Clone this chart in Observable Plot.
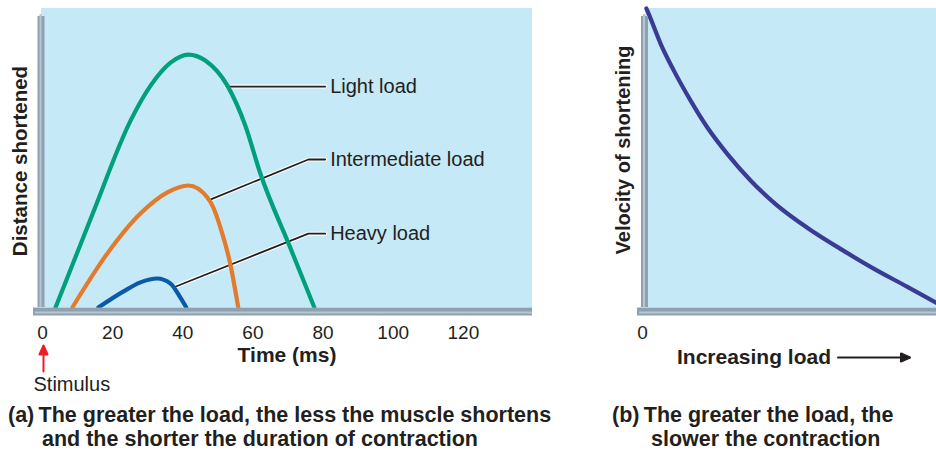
<!DOCTYPE html>
<html>
<head>
<meta charset="utf-8">
<script src="https://cdn.jsdelivr.net/npm/d3@7"></script>
<script src="https://cdn.jsdelivr.net/npm/@observablehq/plot@0.6"></script>
<style>
  html, body { margin: 0; padding: 0; background: #ffffff; }
  #wrap { position: relative; width: 936px; height: 456px; overflow: hidden; font-family: "Liberation Sans", Arial, sans-serif; color: #231f20; }
  #left, #right { position: absolute; top: 0; }
  #left { left: 0; }
  #right { left: 560px; }
  .cap { position: absolute; font-family: "Liberation Sans Narrow", "Liberation Sans", Arial, sans-serif; font-weight: bold; font-size: 21.5px; line-height: 24px; color: #231f20; white-space: nowrap; }
</style>
</head>
<body>
<div id="wrap">
  <div id="left"></div>
  <div id="right"></div>
  <div class="cap" id="capA" style="left:8px; top:403px;">(a)&#8201;The greater the load, the less the muscle shortens<br><span style="padding-left:34px">and the shorter the duration of contraction</span></div>
  <div class="cap" id="capB" style="left:612px; top:403px;">(b)&#8201;The greater the load, the<br><span style="padding-left:39px">slower the contraction</span></div>
</div>
<script>
// ---------- data ----------
const xTicks = [0, 20, 40, 60, 80, 100, 120];
const xTicksB = [0];

// Light load (time ms, distance shortened, arbitrary units 0-100)
const lightT = [4.0, 14.5, 25.4, 31.1, 36.8, 41.9, 46.7, 53.0, 58.1, 62.4, 70.9, 77.8];
const lightD = [0, 31.1, 62.5, 74.2, 81.9, 84.6, 82.6, 74.2, 60.9, 44.8, 20.1, 0];
// Intermediate load
const interT = [8.8, 18.8, 28.2, 35.9, 41.9, 47.3, 49.0, 51.0, 53.8, 56.1];
const interD = [0, 18.1, 31.4, 38.5, 40.8, 36.8, 33.4, 26.8, 14.7, 0];
// Heavy load
const heavyT = [16.2, 23.4, 28.2, 33.0, 36.8, 39.6, 41.3];
const heavyD = [0, 5.4, 8.4, 9.7, 8.0, 3.3, 0];

// Leader lines: [time, distance] vertices
const leaderLight = [[52.7, 73.9], [80.9, 73.9]];
const leaderInter = [[48.1, 36.1], [76.1, 49.5], [80.9, 49.5]];
const leaderHeavy = [[37.6, 6.7], [76.1, 24.7], [80.9, 24.7]];
const labelNames = ["Light load", "Intermediate load", "Heavy load"];
const labelT = [82.3, 82.3, 82.3];
const labelD = [73.9, 49.5, 24.7];

// Panel (b): load (0-100) vs velocity of shortening (0-100)
const loadX = [0.3, 1.1, 5.2, 9.7, 15.5, 21.2, 28.1, 36.1, 44.7, 55.7, 67.0, 78.4, 90.0, 100];
const velY = [100, 98.2, 88.2, 79.3, 69.2, 60.3, 51.4, 42.5, 34.6, 26.6, 19.6, 13.0, 6.9, 1.5];

// ---------- build tables ----------
const zip = (xs, ys) => xs.map((x, i) => ({x, y: ys[i]}));
const light = zip(lightT, lightD);
const inter = zip(interT, interD);
const heavy = zip(heavyT, heavyD);
const velocity = zip(loadX, velY);
const labels = labelNames.map((name, i) => ({name, x: labelT[i], y: labelD[i]}));
const toPts = (arr) => arr.map(([x, y]) => ({x, y}));

const BG = "#c6e9f8";
const FRAME = "#8ea1b0";
const FRAME_HI = "#b7c6d1";
const INK = "#231f20";

// arrow shape with filled triangular head
const filledArrow = {
  draw(context, l) {
    const head = 9, w = 4;
    context.moveTo(0, 0);
    context.lineTo(0, -l + head - 1);
    context.moveTo(-w, -l + head);
    context.lineTo(0, -l);
    context.lineTo(w, -l + head);
    context.closePath();
  }
};

function frameMarks(xMax) {
  return [
    Plot.rect([0], {x1: 0, x2: xMax, y1: 0, y2: 100, fill: BG}),
  ];
}
function frameBars(xMax, dxBar) {
  return [
    Plot.ruleY([0], {x1: 0, x2: xMax, stroke: FRAME, strokeWidth: 8, dy: 4, insetLeft: -8}),
    Plot.ruleY([0], {x1: 0, x2: xMax, stroke: FRAME_HI, strokeWidth: 2, dy: 5, insetLeft: -6}),
    Plot.ruleX([0], {y1: 0, y2: 100, stroke: FRAME, strokeWidth: 7, dx: dxBar, insetBottom: -8}),
    Plot.ruleX([0], {y1: 0, y2: 100, stroke: FRAME_HI, strokeWidth: 2, dx: dxBar - 0.5, insetBottom: -6})
  ];
}
const fontStyle = {fontFamily: "'Liberation Sans', Arial, sans-serif", color: INK, background: "transparent", overflow: "visible"};

// ---------- panel (a) ----------
const left = Plot.plot({
  width: 560,
  height: 400,
  marginLeft: 41,
  marginRight: 28,
  marginTop: 8,
  marginBottom: 93,
  style: fontStyle,
  x: {domain: [0, 140], axis: null},
  y: {domain: [0, 100], axis: null},
  marks: [
    ...frameMarks(140),
    // leader lines with white halo
    ...[leaderLight, leaderInter, leaderHeavy].flatMap(L => [
      Plot.line(toPts(L), {x: "x", y: "y", stroke: "white", strokeWidth: 4}),
      Plot.line(toPts(L), {x: "x", y: "y", stroke: INK, strokeWidth: 1.8})
    ]),
    Plot.line(light, {x: "x", y: "y", stroke: "#00a07c", strokeWidth: 4.2, curve: "monotone-x"}),
    Plot.line(inter, {x: "x", y: "y", stroke: "#e27b2b", strokeWidth: 4.2, curve: "monotone-x"}),
    Plot.line(heavy, {x: "x", y: "y", stroke: "#0b5aa8", strokeWidth: 4.2, curve: "monotone-x"}),
    Plot.text(labels, {x: "x", y: "y", text: "name", textAnchor: "start", lineAnchor: "middle", fontSize: 20, fill: INK}),
    ...frameBars(140, -0.5),
    Plot.axisX(xTicks, {tickSize: 0, tickPadding: 18, fontSize: 19, label: null, dx: 1}),
    Plot.text(["Time (ms)"], {frameAnchor: "bottom", dy: 48, fontSize: 21, fontWeight: "bold", lineAnchor: "middle", fill: INK}),
    Plot.text(["Distance shortened"], {frameAnchor: "left", dx: -21, dy: 3, rotate: -90, textAnchor: "middle", fontSize: 20.5, fontWeight: "bold", lineAnchor: "middle", fill: INK}),
    Plot.vector([0], {x: d => d, frameAnchor: "bottom", dx: 2, dy: 64, length: 26, rotate: 0, anchor: "start", shape: filledArrow, stroke: "#ee1c25", fill: "#ee1c25", strokeWidth: 2}),
    Plot.text(["Stimulus"], {x: d => 0, frameAnchor: "bottom", dx: -8, dy: 77, textAnchor: "start", lineAnchor: "middle", fontSize: 20, fill: INK})
  ]
});
document.getElementById("left").append(left);

// ---------- panel (b) ----------
const right = Plot.plot({
  width: 376,
  height: 400,
  marginLeft: 85,
  marginRight: 0,
  marginTop: 8,
  marginBottom: 93,
  style: fontStyle,
  x: {domain: [0, 100], axis: null},
  y: {domain: [0, 100], axis: null},
  marks: [
    ...frameMarks(100),
    Plot.line(velocity, {x: "x", y: "y", stroke: "#393b94", strokeWidth: 4.2, curve: "monotone-x"}),
    ...frameBars(100, -1),
    Plot.axisX(xTicksB, {tickSize: 0, tickPadding: 18, fontSize: 19, label: null, dx: -3}),
    Plot.text(["Velocity of shortening"], {frameAnchor: "left", dx: -22, dy: -8, rotate: -90, textAnchor: "middle", fontSize: 20, fontWeight: "bold", lineAnchor: "middle", fill: INK}),
    Plot.text(["Increasing load"], {frameAnchor: "bottom", dx: -37, dy: 50, fontSize: 21, fontWeight: "bold", lineAnchor: "middle", fill: INK}),
    Plot.vector([0], {frameAnchor: "bottom", dx: 47, dy: 50, length: 72, rotate: 90, anchor: "start", shape: filledArrow, stroke: INK, fill: INK, strokeWidth: 2})
  ]
});
document.getElementById("right").append(right);
</script>
</body>
</html>
